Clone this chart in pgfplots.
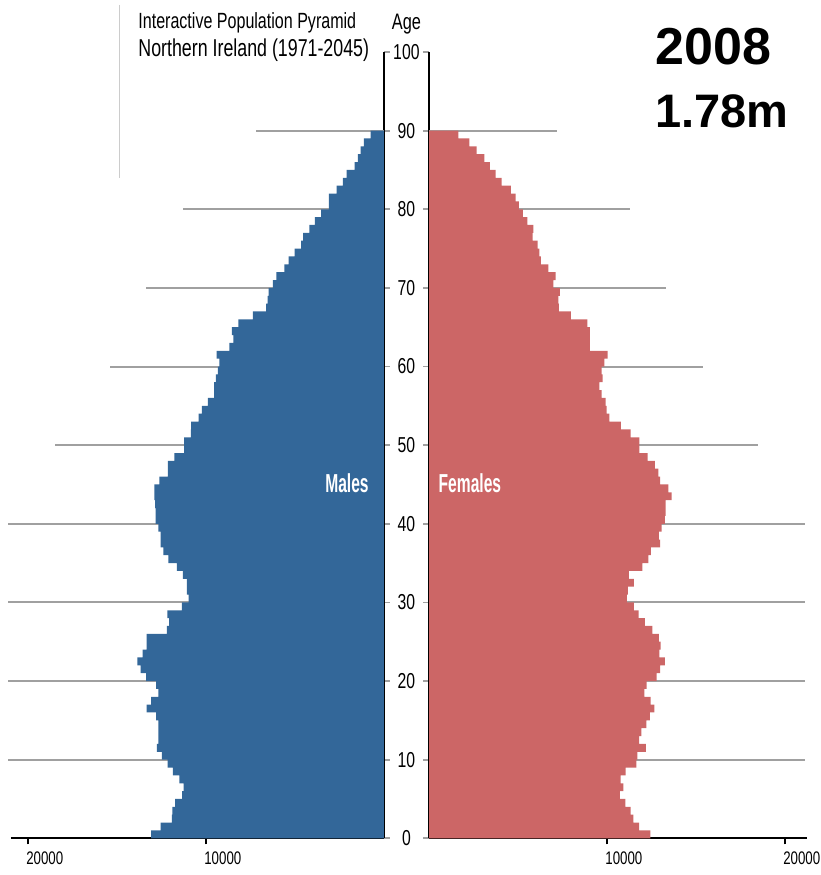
\documentclass[border=0pt]{standalone}
\usepackage{fontspec}
\setmainfont{Liberation Sans}[FakeStretch=0.73]
\newfontfamily\narrowbold{Liberation Sans}[FakeStretch=0.6]
\newfontfamily\widefont{Liberation Sans}
\usepackage{pgfplots}
\usepackage{pgfplotstable}
\pgfplotsset{compat=1.18}

\definecolor{maleblue}{RGB}{51,103,153}
\definecolor{femred}{RGB}{204,102,102}
\definecolor{gridgray}{RGB}{160,160,160}

% single-year ages, males / females (2008)
\pgfplotstableread{
age m f
0 13085 12435
1 12540 11800
2 11920 11480
3 11880 11330
4 11730 11030
5 11340 10730
6 11260 10920
7 11490 10770
8 11860 11050
9 12150 11650
10 12480 11705
11 12760 12190
12 12670 11800
13 12670 11930
14 12670 12210
15 12800 12415
16 13330 12660
17 13085 12450
18 12670 12100
19 12800 12230
20 13365 12790
21 13670 12980
22 13855 13260
23 13555 12940
24 13330 13015
25 13330 12920
26 12200 12545
27 12070 12135
28 12160 11780
29 11355 11515
30 10980 11125
31 11070 11180
32 11070 11515
33 11300 11235
34 11640 11985
35 12110 12320
36 12390 12470
37 12540 12980
38 12540 12920
39 12670 13070
40 12820 13260
41 12820 13295
42 12850 13295
43 12900 13630
44 12900 13445
45 12615 12980
46 12145 12885
47 12145 12695
48 11770 12285
49 11225 11815
50 11225 11815
51 10850 11330
52 10840 10785
53 10415 10130
54 10230 9980
55 9890 9925
56 9535 9700
57 9535 9570
58 9440 9755
59 9325 9700
60 9250 9850
61 9395 10035
62 8680 9045
63 8455 9045
64 8550 9045
65 8175 8895
66 7365 7977
67 6615 7303
68 6540 7266
69 6480 7360
70 6240 6985
71 6050 7116
72 5600 6704
73 5355 6292
74 5015 6199
75 4660 6105
76 4545 5824
77 4190 5861
78 3888 5524
79 3533 5281
80 3100 5056
81 3100 4869
82 2667 4607
83 2307 4082
84 2100 3745
85 1654 3427
86 1467 3109
87 1317 2678
88 1127 2266
89 750 1648
}\pyramid

% reference lines at each decade
\pgfplotstableread{
age len
10 21100
20 21100
30 21100
40 21100
50 18480
60 15390
70 13340
80 11290
90 7190
}\decades

\pgfplotsset{
  pyr/.style={
    scale only axis,
    height=393.15pt,
    ymin=0, ymax=100,
    ytick={0,10,...,100},
    clip=false,
    tick align=outside,
    major tick length=3pt,
    axis line style={black, line width=0.9pt},
    xtick style={black, line width=0.7pt},
    ytick style={gridgray, line width=0.9pt},
    xticklabel style={font=\fontsize{9.1}{10}\selectfont},
    yticklabel style={font=\fontsize{10.8}{11}\selectfont},
    /pgf/number format/assume math mode=true,
    xticklabel style={anchor=north west, inner sep=0pt, xshift=-1pt, yshift=-3.4pt},
  }
}

\begin{document}
\begin{tikzpicture}[x=1pt,y=1pt]
\useasboundingbox (0,0) rectangle (410.5,437.5);

% males
\begin{axis}[pyr,
  width=186.5pt,
  at={(5.5pt,18.35pt)}, anchor=south west,
  xmin=-20950, xmax=0,
  axis x line*=bottom, axis y line*=right,
  xtick={-20000,-10000}, xticklabels={20000,10000},
  yticklabel style={anchor=center, inner sep=0pt, xshift=8.2pt},
]
\addplot[xcomb, gridgray, line width=1pt] table[x expr=-\thisrow{len}, y=age] {\decades};
\addplot[xbar, bar width=1, bar shift=0pt, fill=maleblue, draw=none]
  table[x expr=-\thisrow{m}, y expr=\thisrow{age}+0.5] {\pyramid};
\node[white, font=\narrowbold\bfseries\fontsize{13}{13}\selectfont] at (axis cs:-2080,45.2) {Males};
\node[font=\fontsize{11.2}{11}\selectfont, anchor=base] at ([xshift=11.25pt, yshift=11.5pt]rel axis cs:1,1) {Age};
\end{axis}

% females
\begin{axis}[pyr,
  width=189pt,
  at={(214.5pt,18.35pt)}, anchor=south west,
  xmin=0, xmax=21240,
  axis x line*=bottom, axis y line*=left,
  xtick={10000,20000}, xticklabels={10000,20000},
  yticklabels={},
]
\addplot[xcomb, gridgray, line width=1pt] table[x=len, y=age] {\decades};
\addplot[xbar, bar width=1, bar shift=0pt, fill=femred, draw=none]
  table[x=f, y expr=\thisrow{age}+0.5] {\pyramid};
\node[white, font=\narrowbold\bfseries\fontsize{13}{13}\selectfont] at (axis cs:2300,45.2) {Females};
\end{axis}

% titles
\draw[black!20, line width=0.5pt] (59.5,435) -- (59.5,348.5);
\node[anchor=base west, inner sep=0pt, font=\fontsize{11}{11}\selectfont] at (69,423) {Interactive Population Pyramid};
\node[anchor=base west, inner sep=0pt, font=\fontsize{12.2}{12}\selectfont] at (69,409.25) {Northern Ireland (1971-2045)};
\node[anchor=base west, inner sep=0pt, font=\widefont\bfseries\fontsize{26}{26}\selectfont] at (327.5,405) {2008};
\node[anchor=base west, inner sep=0pt, font=\widefont\bfseries\fontsize{23.5}{24}\selectfont] at (327.5,373.5) {1.78m};
\end{tikzpicture}
\end{document}
